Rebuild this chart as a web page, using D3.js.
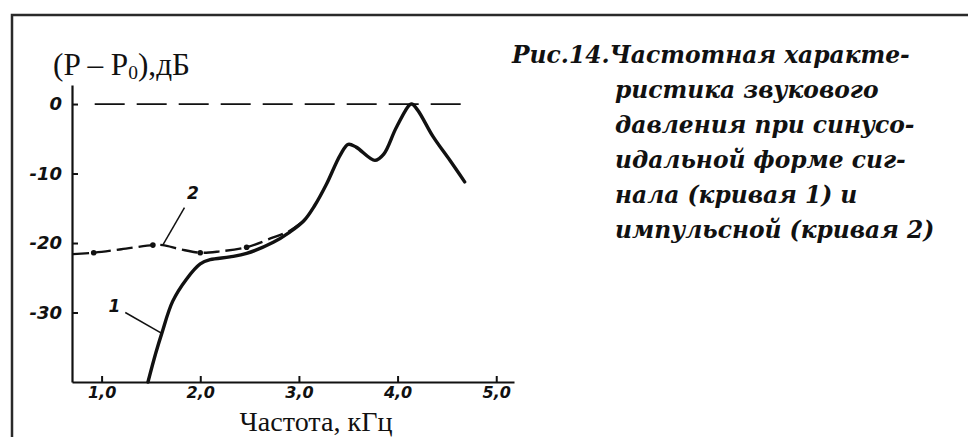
<!DOCTYPE html>
<html>
<head>
<meta charset="utf-8">
<script src="https://cdn.jsdelivr.net/npm/d3@7"></script>
<style>
  html, body { margin: 0; padding: 0; background: #fff; }
  svg { display: block; }
</style>
</head>
<body>
<svg id="chart" width="968" height="437"></svg>
<script>
// ---- data ----
const xTicks = [1, 2, 3, 4, 5];
const yTicks = [0, -10, -20, -30];
// curve 1: sinusoidal signal (freq kHz, dB)
const curve1 = [
  [1.47, -40], [1.55, -35.8], [1.61, -33.0], [1.72, -28.4], [1.86, -25.2],
  [2.0, -23.0], [2.1, -22.4], [2.3, -22.0], [2.47, -21.5], [2.74, -19.9],
  [2.9, -18.5], [3.05, -16.8], [3.16, -14.6], [3.28, -11.5], [3.42, -7.3],
  [3.5, -5.8], [3.58, -6.2], [3.77, -8.1], [3.86, -7.2], [3.99, -3.3],
  [4.14, 0], [4.2, -0.8], [4.36, -4.7], [4.53, -8.1], [4.68, -11.2]
];
// curve 2: pulse signal
const curve2 = [
  [0.71, -21.6], [0.92, -21.4], [1.2, -20.9], [1.52, -20.3], [1.62, -20.3],
  [1.8, -20.9], [2.0, -21.4], [2.2, -21.2], [2.47, -20.6], [2.74, -19.2],
  [2.9, -18.3], [3.05, -16.8]
];
const curve2Markers = [0.92, 1.52, 2.0, 2.47];
const refLine = [[0.93, 0], [4.73, 0]];
const curveLabels = [
  { text: "1", at: [1.13, -29.0], from: [1.24, -30.0], to: [1.61, -33.0] },
  { text: "2", at: [1.925, -12.8], from: [1.84, -14.9], to: [1.62, -20.3] }
];
const captionLines = [
  "Рис.14.Частотная характе-",
  "ристика звукового",
  "давления при синусо-",
  "идальной форме сиг-",
  "нала (кривая 1) и",
  "импульсной (кривая 2)"
];
const xTitle = "Частота, кГц";

// ---- helpers ----
function fitWidth(textSel, target) {
  const w = textSel.node().getComputedTextLength();
  const fs = parseFloat(textSel.attr("font-size"));
  textSel.attr("font-size", fs * target / w);
}

// ---- scales ----
const svg = d3.select("#chart");
const x = d3.scaleLinear().domain([0.7, 5.18]).range([72, 514]);
const y = d3.scaleLinear().domain([-40, 2.74]).range([382, 85]);

// frame
svg.append("path")
  .attr("d", "M12,437 L12,15 L968,15")
  .attr("fill", "none").attr("stroke", "#2a2a2a").attr("stroke-width", 2.5);

// axes
const fmt = d => d.toFixed(1).replace(".", ",");
const gx = svg.append("g").attr("transform", `translate(0,${y(-40)})`)
  .call(d3.axisBottom(x).tickValues(xTicks).tickFormat(fmt).tickSize(-6).tickSizeOuter(0).tickPadding(5));
const gy = svg.append("g").attr("transform", `translate(${x(0.7)},0)`)
  .call(d3.axisLeft(y).tickValues(yTicks).tickFormat(d => d === 0 ? "0" : "-" + Math.abs(d)).tickSize(-6).tickSizeOuter(0).tickPadding(10));
[gx, gy].forEach(g => {
  g.select(".domain").attr("stroke", "#111").attr("stroke-width", 2.2);
  g.selectAll(".tick line").attr("stroke", "#111").attr("stroke-width", 2);
  g.selectAll(".tick text")
    .attr("font-family", "'DejaVu Sans', sans-serif")
    .attr("font-style", "italic")
    .attr("font-weight", "bold")
    .attr("fill", "#111");
});
gx.selectAll(".tick text").attr("font-size", 16);
gy.selectAll(".tick text").attr("font-size", 18);

// y-axis title
const yt = svg.append("text").attr("x", 53).attr("y", 75)
  .attr("font-family", "'Liberation Serif', serif").attr("font-size", 24).attr("fill", "#111");
yt.append("tspan").text("(P – P");
yt.append("tspan").attr("font-size", 15).attr("dy", 4).text("0");
yt.append("tspan").attr("dy", -4).text("),дБ");
{
  const w = yt.node().getBBox().width;
  const k = 137 / w;
  yt.attr("font-size", 24 * k);
  yt.selectAll("tspan").filter((d, i) => i === 1).attr("font-size", 15 * k);
}

// x-axis title
const xt = svg.append("text").attr("x", 316).attr("y", 431).attr("text-anchor", "middle")
  .attr("font-family", "'Liberation Serif', serif").attr("font-size", 24).attr("fill", "#111")
  .text(xTitle);
fitWidth(xt, 153);

// reference dashed line at 0 dB
const line = d3.line().x(d => x(d[0])).y(d => y(d[1]));
svg.append("path").datum(refLine).attr("d", line)
  .attr("fill", "none").attr("stroke", "#111").attr("stroke-width", 1.8)
  .attr("stroke-dasharray", "30,12");

const smooth = d3.line().x(d => x(d[0])).y(d => y(d[1])).curve(d3.curveCatmullRom.alpha(0.5));

// curve 2 (dashed)
svg.append("path").datum(curve2).attr("d", smooth)
  .attr("fill", "none").attr("stroke", "#111").attr("stroke-width", 2.4)
  .attr("stroke-dasharray", "16,6");
svg.selectAll("circle.m").data(curve2Markers).enter().append("circle")
  .attr("class", "m")
  .attr("cx", d => x(d))
  .attr("cy", d => { const p = curve2.find(c => c[0] === d); return y(p[1]); })
  .attr("r", 2.8).attr("fill", "#111");

// curve 1 (solid thick)
svg.append("path").datum(curve1).attr("d", smooth)
  .attr("fill", "none").attr("stroke", "#111").attr("stroke-width", 3.4)
  .attr("stroke-linejoin", "round").attr("stroke-linecap", "round");

// curve labels with leaders
curveLabels.forEach(l => {
  svg.append("line")
    .attr("x1", x(l.from[0])).attr("y1", y(l.from[1]))
    .attr("x2", x(l.to[0])).attr("y2", y(l.to[1]))
    .attr("stroke", "#111").attr("stroke-width", 1.5);
  svg.append("text").attr("x", x(l.at[0])).attr("y", y(l.at[1]))
    .attr("text-anchor", "middle").attr("dy", "0.35em")
    .attr("font-family", "'DejaVu Sans', sans-serif").attr("font-style", "italic")
    .attr("font-weight", "bold")
    .attr("font-size", 17).attr("fill", "#111").text(l.text);
});

// caption
const cap = svg.append("g")
  .attr("font-family", "'DejaVu Serif', serif")
  .attr("font-style", "italic").attr("font-weight", "bold")
  .attr("fill", "#111");
const capTexts = captionLines.map((t, i) =>
  cap.append("text").attr("x", i === 0 ? 512 : 615).attr("y", 63 + 35 * i)
    .attr("font-size", 24).text(t));
{
  const w0 = capTexts[0].node().getComputedTextLength();
  const fs = 24 * 398 / w0;
  capTexts.forEach(s => s.attr("font-size", fs));
}
</script>
</body>
</html>
